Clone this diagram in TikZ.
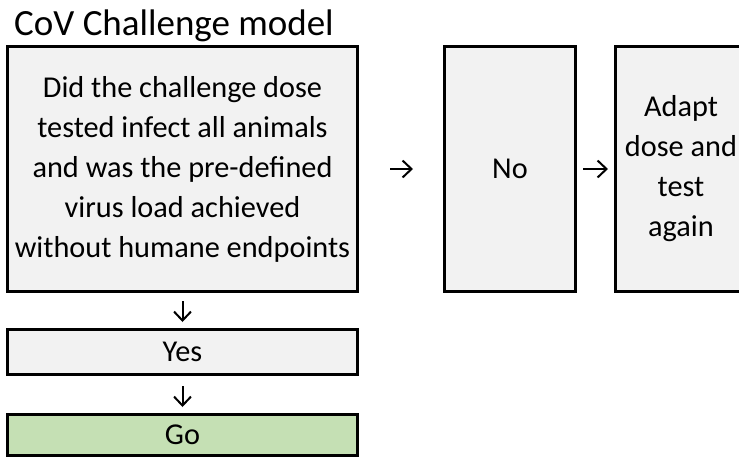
\documentclass[tikz,border=0pt]{standalone}
\usepackage{fontspec}
\setmainfont{Carlito}
\usetikzlibrary{positioning,arrows.meta}
\definecolor{boxgrey}{HTML}{F2F2F2}
\definecolor{gogreen}{HTML}{C5E0B4}
\tikzset{
  boxb/.style={draw=black, fill=boxgrey, line width=3pt, align=center,
    inner sep=0pt, font=\fontsize{30.3}{40}\selectfont},
  gob/.style={boxb, fill=gogreen},
  flow/.style={-{Straight Barb[length=9pt,width=17pt]}, line width=2pt},
  ttl/.style={font=\fontsize{37}{40}\selectfont, inner sep=0pt},
}

\begin{document}
\begin{tikzpicture}[x=1pt, y=-1pt]
    \useasboundingbox (0,0) rectangle (739,459);
    \node[ttl, anchor=base west] (title) at (14,35) {CoV Challenge model};
    \node[boxb, minimum width=350pt, minimum height=245pt, text depth=4pt] (dose) at (182.5,169)
      {Did the challenge dose\\tested infect all animals\\and was the pre-defined\\virus load achieved\\without humane endpoints};
    \node[boxb, minimum width=131pt, minimum height=245pt] (no) at (510,169) {No};
    \node[boxb, minimum width=131pt, minimum height=245pt] (adapt) at (681,169)
      {Adapt\\dose and\\test\\again};
    \node[boxb, minimum width=350pt, minimum height=45pt] (yes) at (182.5,352) {Yes};
    \node[gob, minimum width=350pt, minimum height=41pt] (go) at (182.5,435) {Go};
    % glyph-like arrows, kept short
    \draw[flow, shorten <=31pt, shorten >=30pt] (dose) -- (no);
    \draw[flow, shorten <=6pt, shorten >=6pt] (no) -- (adapt);
    \draw[flow, shorten <=8pt, shorten >=6pt] (dose) -- (yes);
    \draw[flow, shorten <=10pt, shorten >=6pt] (yes) -- (go);
\end{tikzpicture}
\end{document}
